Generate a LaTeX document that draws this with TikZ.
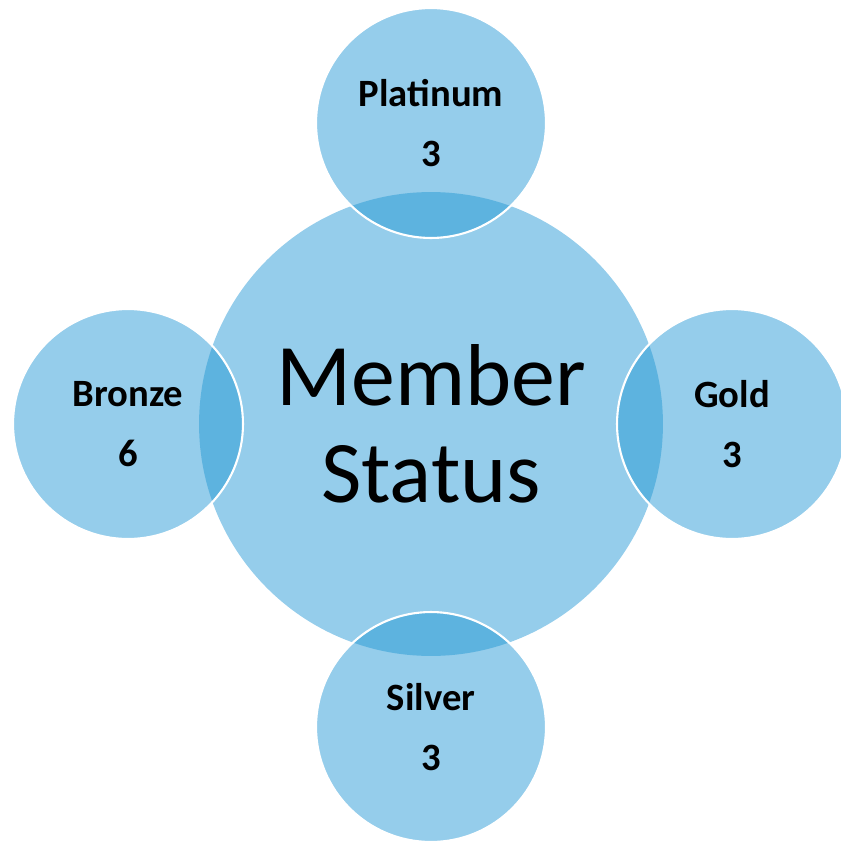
\documentclass[tikz,border=0pt]{standalone}
\usepackage{fontspec}
\setmainfont{Carlito}
\definecolor{tierblue}{HTML}{95CDEB}
\definecolor{tierdark}{HTML}{5DB3DF}

\begin{document}
\begin{tikzpicture}[x=0.02cm, y=-0.02cm,
	hub/.style={circle, fill=tierblue, minimum size=9.28cm, inner sep=0pt, align=center,
		font=\fontsize{50}{55}\selectfont},
	tier/.style={circle, fill=tierblue, minimum size=4.6cm, inner sep=0pt, align=center,
		font=\bfseries\fontsize{22}{34}\selectfont}]
\useasboundingbox (0,0) rectangle (841,842);
\node[hub] (member) at (431,424) {Member\\Status};
\node[tier] (platinum) at (431,123) {Platinum\\3};
\node[tier] (gold) at (732,424) {Gold\\3};
\node[tier] (silver) at (431,727) {Silver\\3};
\node[tier] (bronze) at (128,424) {Bronze\\6};
\begin{scope}
	\clip (member.center) circle (4.64cm);
	\foreach \t in {platinum, gold, silver, bronze}
		\fill[tierdark] (\t.center) circle (2.3cm);
\end{scope}
\foreach \t in {platinum, gold, silver, bronze}
	\draw[white, line width=1.2pt] (\t.center) circle (2.3cm);
\end{tikzpicture}
\end{document}
